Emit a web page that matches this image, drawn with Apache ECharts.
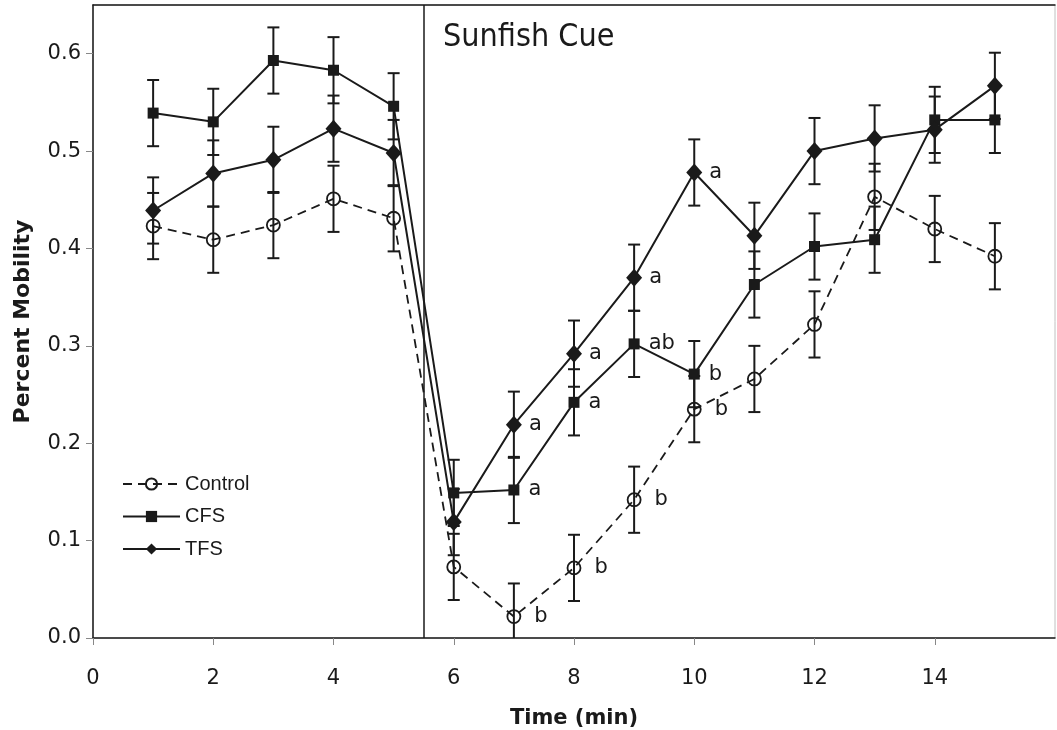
<!DOCTYPE html>
<html>
<head>
<meta charset="utf-8">
<script src="https://cdn.jsdelivr.net/npm/echarts@6/dist/echarts.min.js"></script>
<style>
  html, body { margin: 0; padding: 0; background: #fff; }
  #main { width: 1057px; height: 730px; }
</style>
</head>
<body>
<div id="main"></div>
<script>
// time points (min)
var times = [1, 2, 3, 4, 5, 6, 7, 8, 9, 10, 11, 12, 13, 14, 15];

// percent mobility
var control = [0.423, 0.409, 0.424, 0.451, 0.431, 0.073, 0.022, 0.072, 0.142, 0.235, 0.266, 0.322, 0.453, 0.420, 0.392];
var cfs     = [0.539, 0.530, 0.593, 0.583, 0.546, 0.149, 0.152, 0.242, 0.302, 0.271, 0.363, 0.402, 0.409, 0.532, 0.532];
var tfs     = [0.439, 0.477, 0.491, 0.523, 0.498, 0.119, 0.219, 0.292, 0.370, 0.478, 0.413, 0.500, 0.513, 0.522, 0.567];

// standard errors
var controlErr = [0.034, 0.034, 0.034, 0.034, 0.034, 0.034, 0.034, 0.034, 0.034, 0.034, 0.034, 0.034, 0.034, 0.034, 0.034];
var cfsErr     = [0.034, 0.034, 0.034, 0.034, 0.034, 0.034, 0.034, 0.034, 0.034, 0.034, 0.034, 0.034, 0.034, 0.034, 0.034];
var tfsErr     = [0.034, 0.034, 0.034, 0.034, 0.034, 0.034, 0.034, 0.034, 0.034, 0.034, 0.034, 0.034, 0.034, 0.034, 0.034];

// significance letters
var controlLetters = ['', '', '', '', '', '', 'b', 'b', 'b', 'b', '', '', '', '', ''];
var cfsLetters     = ['', '', '', '', '', '', 'a', 'a', 'ab', 'b', '', '', '', '', ''];
var tfsLetters     = ['', '', '', '', '', '', 'a', 'a', 'a', 'a', '', '', '', '', ''];

var xTicks = [0, 2, 4, 6, 8, 10, 12, 14];
var yTicks = [0, 0.1, 0.2, 0.3, 0.4, 0.5, 0.6];

var cueTime = 5.5;
var ink = '#1a1a1a';

function pairs(vals) {
    return times.map(function (t, i) { return [t, vals[i]]; });
}

function errData(vals, errs) {
    return times.map(function (t, i) { return [t, vals[i] - errs[i], vals[i] + errs[i]]; });
}

function errSeries(vals, errs) {
    return {
        type: 'custom',
        silent: true,
        clip: true,
        z: 3,
        data: errData(vals, errs),
        renderItem: function (params, api) {
            var lo = api.coord([api.value(0), api.value(1)]);
            var hi = api.coord([api.value(0), api.value(2)]);
            var w = 6;
            var st = { stroke: ink, lineWidth: 2 };
            return {
                type: 'group',
                children: [
                    { type: 'line', shape: { x1: lo[0], y1: lo[1], x2: hi[0], y2: hi[1] }, style: st },
                    { type: 'line', shape: { x1: lo[0] - w, y1: lo[1], x2: lo[0] + w, y2: lo[1] }, style: st },
                    { type: 'line', shape: { x1: hi[0] - w, y1: hi[1], x2: hi[0] + w, y2: hi[1] }, style: st }
                ]
            };
        }
    };
}

function letterLabel(letters, dist) {
    return {
        show: true,
        position: 'right',
        distance: dist,
        fontFamily: 'DejaVu Sans',
        fontSize: 21,
        color: ink,
        formatter: function (p) { return letters[p.dataIndex]; }
    };
}

var myChart = echarts.init(document.getElementById('main'));

var option = {
    backgroundColor: '#fff',
    animation: false,
    textStyle: { fontFamily: 'DejaVu Sans' },
    grid: {
        left: 93, right: 2, top: 5, bottom: 92,
        outerBoundsMode: 'none',
        containLabel: false,
        show: true, borderColor: '#c0c0c0', borderWidth: 1
    },
    legend: {
        orient: 'vertical',
        left: 117, top: 469,
        itemWidth: 57, itemHeight: 14, itemGap: 12.5,
        textStyle: { fontFamily: 'Liberation Sans', fontSize: 20, color: ink },
        data: ['Control', 'CFS', 'TFS']
    },
    graphic: [{
        type: 'text',
        left: 443, top: 22,
        scaleX: 0.9,
        style: { text: 'Sunfish Cue', fontFamily: 'DejaVu Sans', fontSize: 32, fill: ink }
    }],
    xAxis: [{
        type: 'value',
        min: 0, max: 16, interval: 2,
        name: 'Time (min)',
        nameLocation: 'middle',
        nameGap: 70,
        nameTextStyle: { fontFamily: 'DejaVu Sans', fontSize: 21, fontWeight: 'bold', color: ink },
        axisLine: { lineStyle: { color: ink, width: 1.5 } },
        axisTick: { inside: false, length: 7, customValues: xTicks, lineStyle: { color: '#888' } },
        axisLabel: {
            fontSize: 21, color: ink, margin: 30,
            customValues: xTicks,
            formatter: function (v) { return v >= 16 ? '' : String(v); }
        },
        splitLine: { show: false }
    }, {
        type: 'value',
        position: 'top',
        min: 0, max: 16,
        axisLine: { show: true, lineStyle: { color: ink, width: 1.5 } },
        axisTick: { show: false },
        axisLabel: { show: false },
        splitLine: { show: false }
    }],
    yAxis: {
        type: 'value',
        min: 0, max: 0.65, interval: 0.1,
        name: 'Percent Mobility',
        nameLocation: 'middle',
        nameGap: 59,
        nameTextStyle: { fontFamily: 'DejaVu Sans', fontSize: 22, fontWeight: 'bold', color: ink },
        axisLine: { show: true, lineStyle: { color: ink, width: 1.5 } },
        axisTick: { show: true, length: 7, customValues: yTicks, lineStyle: { color: '#888' } },
        axisLabel: {
            fontSize: 21, color: ink, margin: 12,
            customValues: yTicks,
            formatter: function (v) {
                var r = Math.round(v * 10) / 10;
                return Math.abs(r - v) < 1e-6 ? r.toFixed(1) : '';
            }
        },
        splitLine: { show: false }
    },
    series: [
        errSeries(control, controlErr),
        errSeries(cfs, cfsErr),
        errSeries(tfs, tfsErr),
        {
            name: 'Control',
            type: 'line',
            z: 4,
            data: pairs(control),
            symbol: 'circle',
            symbolSize: 13,
            itemStyle: { color: 'rgba(255,255,255,0)', borderColor: ink, borderWidth: 1.8 },
            lineStyle: { color: ink, width: 1.8, type: [9, 6] },
            label: letterLabel(controlLetters, 13),
            markLine: {
                silent: true,
                symbol: ['none', 'none'],
                label: { show: false },
                lineStyle: { color: ink, width: 1.5, type: 'solid' },
                data: [{ xAxis: cueTime }]
            }
        },
        {
            name: 'CFS',
            type: 'line',
            z: 5,
            data: pairs(cfs),
            symbol: 'rect',
            symbolSize: 11,
            itemStyle: { color: ink },
            lineStyle: { color: ink, width: 2 },
            label: letterLabel(cfsLetters, 9)
        },
        {
            name: 'TFS',
            type: 'line',
            z: 6,
            data: pairs(tfs),
            symbol: 'diamond',
            symbolSize: [16, 18],
            itemStyle: { color: ink },
            lineStyle: { color: ink, width: 2 },
            label: letterLabel(tfsLetters, 7)
        }
    ]
};

myChart.setOption(option);
</script>
</body>
</html>
